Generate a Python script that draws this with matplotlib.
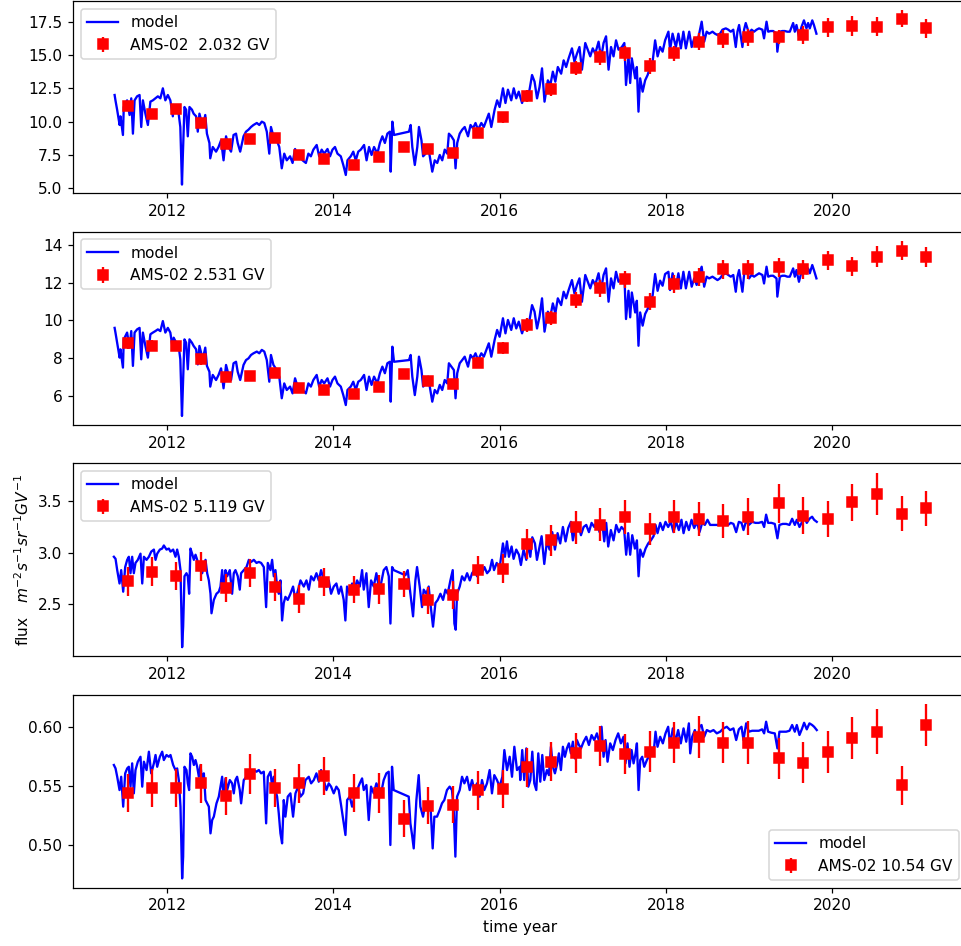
import matplotlib
matplotlib.use("Agg")
import matplotlib.pyplot as plt

# ---------------- model curves ----------------
# panels 1 and 2 share one time grid
t12 = [2011.37, 2011.38, 2011.40, 2011.43, 2011.44, 2011.47, 2011.48, 2011.52, 2011.55, 2011.57,
       2011.59, 2011.61, 2011.64, 2011.67, 2011.69, 2011.71, 2011.74, 2011.77, 2011.80, 2011.83,
       2011.86, 2011.89, 2011.92, 2011.95, 2011.98, 2012.01, 2012.04, 2012.07, 2012.08, 2012.11,
       2012.14, 2012.16, 2012.18, 2012.19, 2012.21, 2012.23, 2012.25, 2012.27, 2012.30, 2012.32,
       2012.35, 2012.37, 2012.39, 2012.41, 2012.43, 2012.46, 2012.48,
       2012.51, 2012.52, 2012.55, 2012.59, 2012.62, 2012.65, 2012.68, 2012.71, 2012.74, 2012.77,
       2012.80, 2012.83, 2012.85, 2012.88, 2012.92, 2012.95, 2012.98, 2013.01, 2013.04, 2013.08,
       2013.11, 2013.14, 2013.17, 2013.20, 2013.23, 2013.25, 2013.28,
       2013.32, 2013.35, 2013.38, 2013.41, 2013.44, 2013.48, 2013.51, 2013.54, 2013.57, 2013.60,
       2013.63, 2013.67, 2013.70, 2013.73, 2013.76, 2013.80, 2013.83, 2013.86, 2013.89, 2013.93,
       2013.96, 2013.99, 2014.02, 2014.05, 2014.09, 2014.12, 2014.15, 2014.17, 2014.21, 2014.24,
       2014.27, 2014.30, 2014.33, 2014.37, 2014.40, 2014.43, 2014.46, 2014.49, 2014.53, 2014.56,
       2014.59, 2014.62, 2014.65, 2014.68, 2014.69, 2014.71, 2014.73, 2014.91, 2014.93, 2014.95,
       2014.98, 2015.01, 2015.03, 2015.06, 2015.08, 2015.11, 2015.14, 2015.16, 2015.19, 2015.22,
       2015.25, 2015.28, 2015.31, 2015.34, 2015.37, 2015.39, 2015.42, 2015.45, 2015.47, 2015.49,
       2015.52, 2015.55, 2015.58, 2015.62, 2015.65, 2015.68, 2015.71, 2015.74, 2015.78, 2015.81,
       2015.84, 2015.87, 2015.90, 2015.94, 2015.97, 2016.00, 2016.04, 2016.07, 2016.10, 2016.14,
       2016.17, 2016.20, 2016.23, 2016.27, 2016.30, 2016.33, 2016.36, 2016.39, 2016.42, 2016.45,
       2016.48, 2016.51, 2016.54,
       2016.58, 2016.61, 2016.64, 2016.67, 2016.70, 2016.74, 2016.77, 2016.80, 2016.83, 2016.87,
       2016.90, 2016.93, 2016.96, 2016.99, 2017.03, 2017.06, 2017.09, 2017.12, 2017.15, 2017.19,
       2017.22, 2017.25, 2017.28, 2017.31, 2017.34, 2017.37, 2017.40, 2017.43, 2017.47, 2017.50,
       2017.52, 2017.55, 2017.57, 2017.59, 2017.63, 2017.65, 2017.67, 2017.69, 2017.72, 2017.75,
       2017.78, 2017.81, 2017.84, 2017.87, 2017.90, 2017.93, 2017.96, 2017.99,
       2018.03, 2018.05, 2018.08, 2018.12, 2018.15, 2018.18, 2018.21, 2018.24, 2018.28, 2018.31,
       2018.34, 2018.37, 2018.40,
       2018.43, 2018.46, 2018.49, 2018.52, 2018.56, 2018.59, 2018.62, 2018.65, 2018.68, 2018.72,
       2018.75, 2018.78, 2018.81, 2018.84, 2018.86, 2018.88, 2018.92, 2018.94, 2018.96, 2019.00,
       2019.03, 2019.06, 2019.09, 2019.12, 2019.16, 2019.18, 2019.21, 2019.23, 2019.26, 2019.29,
       2019.33, 2019.34, 2019.37, 2019.40, 2019.43, 2019.46, 2019.49, 2019.53, 2019.55, 2019.57,
       2019.60, 2019.63, 2019.66, 2019.69, 2019.71, 2019.73, 2019.76, 2019.78, 2019.81]

model_2032 = [12.0, 11.6, 10.9, 9.75, 10.4, 9.0, 11.1, 11.6, 10.5, 11.75,
              9.1, 11.6, 11.9, 12.0, 9.6, 11.6, 10.6, 9.75, 11.5, 11.6,
              11.75, 11.9, 11.75, 12.5, 11.6, 12.0, 11.6, 10.4, 11.25, 10.9,
              10.6, 9.6, 5.28, 7.4, 11.1, 10.9, 8.9, 11.1, 10.9, 10.6,
              10.4, 9.25, 10.6, 10.1, 9.6, 10.5, 9.1,
              8.4, 7.25, 8.1, 7.75, 8.1, 8.6, 7.1, 8.9, 8.1, 7.75,
              9.0, 9.1, 8.4, 7.75, 8.9, 9.25, 9.4, 9.6, 9.75, 9.9,
              9.75, 10.0, 9.9, 9.25, 7.6, 9.6, 8.9,
              8.6, 8.1, 6.5, 7.6, 7.1, 7.4, 6.9, 7.95, 7.4, 7.4,
              7.1, 6.9, 7.6, 7.4, 7.9, 8.25, 7.4, 7.9, 7.6, 7.95,
              7.4, 7.9, 8.1, 7.6, 7.4, 6.75, 6.0, 7.1, 7.4, 7.75,
              7.1, 7.75, 7.9, 8.25, 7.1, 8.1, 7.5, 8.1, 7.6, 8.4,
              8.9, 8.4, 9.1, 9.25, 6.25, 10.0, 9.0, 9.25, 9.75, 8.1,
              6.75, 8.1, 9.6, 8.6, 7.4, 7.6, 8.1, 7.4, 6.25, 7.1,
              6.9, 7.5, 7.1, 7.9, 7.6, 9.1, 8.9, 8.6, 6.5, 8.4,
              9.1, 9.4, 9.6, 8.9, 9.75, 9.5, 9.9, 9.4, 9.9, 9.6,
              10.1, 10.6, 9.6, 10.9, 11.6, 11.1, 12.5, 11.4, 12.4, 11.6,
              12.5, 11.75, 12.25, 11.4, 12.0, 11.75, 12.4, 13.5, 13.0, 11.75,
              12.6, 14.0, 11.5,
              13.1, 12.75, 13.75, 13.0, 14.1, 13.6, 14.6, 14.1, 14.75, 15.5,
              14.5, 15.1, 15.6, 13.9, 15.9, 15.4, 14.9, 15.5, 15.1, 16.0,
              14.75, 15.9, 16.4, 13.9, 15.6, 14.9, 16.1, 15.4, 15.6, 15.9,
              12.75, 14.9, 12.9, 14.75, 13.25, 14.1, 10.75, 13.25, 12.25, 13.1,
              13.5, 14.1, 14.5, 16.1, 14.9, 15.6, 15.25, 16.1,
              16.75, 15.4, 16.6, 15.6, 16.6, 15.5, 16.75, 15.5, 16.75, 15.6,
              16.25, 15.75, 16.6,
              17.5, 16.0, 16.75, 16.6, 16.75, 16.6, 16.5, 16.6, 16.9, 17.0,
              16.9, 16.75, 16.9, 15.6, 16.75, 17.25, 15.6, 16.9, 17.4, 16.6,
              16.9, 16.75, 16.9, 17.0, 16.9, 16.25, 17.5, 16.75, 16.8, 16.8,
              16.6, 15.25, 16.75, 16.8, 16.8, 16.75, 16.75, 17.4, 16.75, 17.25,
              16.4, 17.1, 17.6, 17.0, 17.4, 17.0, 17.6, 17.25, 16.6]

model_2531 = [9.60, 9.35, 8.81, 8.02, 8.46, 7.49, 8.99, 9.35, 8.55, 9.43,
              7.58, 9.35, 9.52, 9.60, 7.93, 9.35, 8.64, 8.02, 9.26, 9.35,
              9.43, 9.52, 9.43, 9.96, 9.35, 9.60, 9.35, 8.46, 9.08, 8.81,
              8.64, 7.93, 4.92, 6.34, 8.99, 8.81, 7.40, 8.99, 8.81, 8.64,
              8.46, 7.66, 8.64, 8.28, 7.93, 8.55, 7.58,
              7.27, 6.48, 7.10, 6.83, 7.10, 7.45, 6.39, 7.63, 7.10, 6.83,
              7.72, 7.80, 7.27, 6.83, 7.63, 7.89, 7.98, 8.16, 8.25, 8.34,
              8.25, 8.43, 8.34, 7.89, 6.74, 8.16, 7.63,
              7.36, 7.01, 5.86, 6.65, 6.30, 6.48, 6.12, 6.92, 6.48, 6.48,
              6.30, 6.12, 6.65, 6.48, 6.83, 7.10, 6.48, 6.83, 6.65, 6.92,
              6.48, 6.83, 7.01, 6.65, 6.48, 6.03, 5.50, 6.30, 6.48, 6.74,
              6.30, 6.74, 6.83, 7.10, 6.30, 7.01, 6.57, 7.01, 6.65, 7.19,
              7.54, 7.19, 7.72, 7.80, 5.68, 8.60, 7.80, 7.89, 8.16, 7.01,
              6.03, 7.01, 8.07, 7.36, 6.48, 6.65, 7.01, 6.48, 5.68, 6.30,
              6.12, 6.57, 6.30, 6.83, 6.65, 7.72, 7.54, 7.36, 5.86, 7.19,
              7.72, 7.89, 8.07, 7.54, 8.16, 7.98, 8.25, 7.89, 8.25, 8.07,
              8.43, 8.78, 8.07, 8.96, 9.49, 9.13, 10.11, 9.31, 10.02, 9.49,
              10.11, 9.57, 9.93, 9.31, 9.75, 9.57, 10.02, 10.81, 10.46, 9.57,
              10.20, 11.17, 9.40,
              10.46, 10.20, 10.90, 10.37, 11.17, 10.81, 11.52, 11.17, 11.61, 12.14,
              11.43, 11.88, 12.23, 10.99, 12.41, 12.05, 11.70, 12.14, 11.88, 12.50,
              11.61, 12.41, 12.76, 10.99, 12.23, 11.70, 12.58, 12.05, 12.23, 12.41,
              10.07, 11.57, 10.16, 11.48, 10.42, 11.04, 8.65, 10.42, 9.72, 10.34,
              10.60, 11.04, 11.31, 12.46, 11.57, 12.11, 11.84, 12.46,
              12.58, 11.61, 12.50, 11.79, 12.50, 11.70, 12.58, 11.70, 12.58, 11.79,
              12.23, 11.88, 12.50,
              12.85, 11.79, 12.32, 12.23, 12.32, 12.23, 12.14, 12.23, 12.41, 12.50,
              12.41, 12.32, 12.41, 11.52, 12.32, 12.67, 11.52, 12.41, 12.76, 12.23,
              12.41, 12.32, 12.41, 12.50, 12.41, 11.96, 12.85, 12.32, 12.37, 12.37,
              12.23, 11.26, 12.32, 12.37, 12.37, 12.32, 12.32, 12.76, 12.32, 12.67,
              12.05, 12.58, 12.94, 12.50, 12.76, 12.50, 12.94, 12.67, 12.23]

t3 = [2011.361, 2011.381, 2011.401, 2011.429, 2011.449, 2011.473, 2011.497, 2011.521, 2011.541, 2011.561,
      2011.581, 2011.601, 2011.621, 2011.649, 2011.681, 2011.702, 2011.722, 2011.754, 2011.782, 2011.810,
      2011.842, 2011.862, 2011.882, 2011.914, 2011.942, 2011.962, 2011.994, 2012.022, 2012.042, 2012.074,
      2012.102, 2012.122, 2012.142, 2012.162, 2012.182, 2012.194, 2012.210, 2012.234, 2012.250, 2012.266,
      2012.282, 2012.302, 2012.323, 2012.343, 2012.363, 2012.383, 2012.403, 2012.423, 2012.443, 2012.463,
      2012.483, 2012.503, 2012.523, 2012.535, 2012.563, 2012.595, 2012.623, 2012.643, 2012.663, 2012.683,
      2012.703, 2012.723, 2012.755, 2012.783, 2012.803, 2012.823, 2012.851, 2012.875, 2012.891, 2012.923,
      2012.956, 2012.984, 2013.012, 2013.044, 2013.076, 2013.104, 2013.132, 2013.164, 2013.192, 2013.212,
      2013.244, 2013.264, 2013.284, 2013.304, 2013.324, 2013.344, 2013.364, 2013.384, 2013.404, 2013.424,
      2013.452, 2013.484, 2013.516, 2013.544, 2013.577, 2013.605, 2013.645, 2013.677, 2013.705, 2013.733,
      2013.765, 2013.797, 2013.825, 2013.853, 2013.885, 2013.917, 2013.945, 2013.973, 2014.005, 2014.037,
      2014.065, 2014.093, 2014.125, 2014.145, 2014.165, 2014.197, 2014.226, 2014.254, 2014.286, 2014.318,
      2014.346, 2014.366, 2014.398, 2014.426, 2014.454, 2014.486, 2014.518, 2014.546, 2014.574, 2014.606,
      2014.638, 2014.667, 2014.687, 2014.707, 2014.727, 2014.867, 2014.895, 2014.927, 2014.959, 2014.987,
      2015.007, 2015.039, 2015.067, 2015.087, 2015.119, 2015.147, 2015.167, 2015.199, 2015.228, 2015.256,
      2015.288, 2015.320, 2015.348, 2015.376, 2015.408, 2015.436, 2015.456, 2015.472, 2015.488, 2015.520,
      2015.548, 2015.577, 2015.609, 2015.641, 2015.669, 2015.697, 2015.729, 2015.760, 2015.788, 2015.817,
      2015.849, 2015.881, 2015.909, 2015.933, 2015.965, 2015.994,
      2016.008, 2016.040, 2016.064, 2016.088, 2016.112, 2016.144, 2016.168, 2016.200, 2016.232, 2016.256,
      2016.288, 2016.321, 2016.345, 2016.369, 2016.393, 2016.425, 2016.449, 2016.481, 2016.505, 2016.537,
      2016.569, 2016.601, 2016.633, 2016.665, 2016.697, 2016.729, 2016.761, 2016.793, 2016.825, 2016.857,
      2016.881, 2016.913, 2016.945, 2016.978, 2017.010, 2017.042, 2017.074, 2017.106, 2017.138, 2017.170,
      2017.202, 2017.234, 2017.258, 2017.282, 2017.306, 2017.338, 2017.370, 2017.402, 2017.434, 2017.466,
      2017.498, 2017.522, 2017.546, 2017.570, 2017.595, 2017.627, 2017.651, 2017.671, 2017.691, 2017.723,
      2017.755, 2017.787, 2017.819, 2017.851, 2017.875, 2017.899, 2017.931, 2017.963, 2017.995, 2018.027,
      2018.059, 2018.091, 2018.123, 2018.155, 2018.187, 2018.212, 2018.244, 2018.276, 2018.308, 2018.340,
      2018.372, 2018.404, 2018.436, 2018.468, 2018.500, 2018.532, 2018.572, 2018.612, 2018.652, 2018.684,
      2018.716, 2018.748, 2018.780, 2018.812, 2018.845, 2018.877, 2018.909, 2018.933, 2018.965, 2018.997,
      2019.037, 2019.077, 2019.117, 2019.157, 2019.181, 2019.205, 2019.229, 2019.269, 2019.309, 2019.341,
      2019.365, 2019.405, 2019.446, 2019.486, 2019.518, 2019.550, 2019.574, 2019.606, 2019.638, 2019.662,
      2019.694, 2019.726, 2019.758, 2019.782, 2019.814]

model_5119 = [2.96, 2.94, 2.83, 2.70, 2.83, 2.62, 2.86, 2.93, 2.96, 2.80,
              2.96, 2.80, 2.90, 2.93, 2.99, 2.70, 2.96, 2.93, 2.96, 3.01,
              3.03, 2.93, 2.99, 3.03, 3.04, 3.07, 3.03, 3.04, 3.01, 3.03,
              2.96, 3.03, 2.96, 2.83, 2.08, 2.28, 2.77, 2.80, 2.77, 2.60,
              3.04, 2.99, 2.93, 2.98, 2.93, 2.83, 2.86, 2.80, 2.88, 2.93,
              2.80, 2.73, 2.60, 2.41, 2.54, 2.60, 2.62, 2.67, 2.83, 2.64,
              2.83, 2.77, 2.83, 2.60, 2.80, 2.83, 2.77, 2.64, 2.80, 2.83,
              2.86, 2.93, 2.91, 2.93, 2.90, 2.91, 2.90, 2.86, 2.47, 2.90,
              2.83, 2.93, 2.77, 2.83, 2.67, 2.60, 2.73, 2.34, 2.51, 2.57,
              2.54, 2.60, 2.67, 2.54, 2.64, 2.73, 2.67, 2.73, 2.64, 2.77,
              2.73, 2.80, 2.73, 2.83, 2.73, 2.67, 2.73, 2.60, 2.67, 2.70,
              2.60, 2.67, 2.54, 2.34, 2.67, 2.60, 2.70, 2.64, 2.73, 2.67,
              2.83, 2.64, 2.80, 2.47, 2.73, 2.67, 2.80, 2.67, 2.70, 2.83,
              2.86, 2.77, 2.31, 2.86, 2.83, 2.78, 2.83, 2.60, 2.38, 2.73,
              2.86, 2.67, 2.47, 2.64, 2.60, 2.67, 2.51, 2.28, 2.51, 2.54,
              2.60, 2.54, 2.64, 2.60, 2.73, 2.83, 2.31, 2.25, 2.60, 2.67,
              2.77, 2.73, 2.80, 2.73, 2.80, 2.83, 2.77, 2.83, 2.80, 2.86,
              2.80, 2.83, 2.93, 2.83, 2.90, 2.86,
              2.90, 3.09, 2.96, 3.11, 2.96, 3.06, 2.94, 3.03, 2.98, 2.88,
              3.03, 2.93, 3.09, 2.96, 3.15, 3.09, 2.93, 3.06, 3.16, 2.89,
              3.11, 3.03, 3.20, 3.03, 3.19, 3.09, 3.25, 3.11, 3.24, 3.30,
              3.12, 3.25, 3.29, 3.17, 3.25, 3.27, 3.20, 3.29, 3.25, 3.30,
              3.20, 3.30, 3.11, 3.29, 3.06, 3.22, 3.12, 3.27, 3.20, 3.25,
              3.22, 2.98, 3.19, 2.98, 3.17, 3.04, 3.12, 2.77, 3.03, 2.96,
              3.04, 3.09, 3.12, 3.16, 3.27, 3.19, 3.29, 3.22, 3.30, 3.25,
              3.30, 3.20, 3.30, 3.22, 3.32, 3.19, 3.30, 3.22, 3.32, 3.24,
              3.30, 3.20, 3.29, 3.27, 3.32, 3.27, 3.27, 3.27, 3.27, 3.30,
              3.28, 3.27, 3.29, 3.28, 3.20, 3.30, 3.29, 3.22, 3.31, 3.27,
              3.30, 3.29, 3.29, 3.30, 3.25, 3.37, 3.29, 3.29, 3.28, 3.14,
              3.27, 3.28, 3.28, 3.27, 3.33, 3.27, 3.32, 3.25, 3.30, 3.35,
              3.29, 3.33, 3.35, 3.32, 3.30]

t4 = [2011.361, 2011.381, 2011.401, 2011.429, 2011.449, 2011.473, 2011.497, 2011.521, 2011.541, 2011.561,
      2011.581, 2011.601, 2011.621, 2011.649, 2011.681, 2011.702, 2011.722, 2011.754, 2011.782, 2011.810,
      2011.842, 2011.862, 2011.882, 2011.914, 2011.942, 2011.962, 2011.994, 2012.022, 2012.042, 2012.074,
      2012.102, 2012.122, 2012.142, 2012.162, 2012.182, 2012.194, 2012.210, 2012.234, 2012.250, 2012.266,
      2012.282, 2012.302, 2012.323, 2012.343, 2012.363, 2012.383, 2012.403, 2012.423, 2012.443, 2012.463,
      2012.483, 2012.503, 2012.523, 2012.543, 2012.563, 2012.595, 2012.623, 2012.643, 2012.663, 2012.683,
      2012.703, 2012.723, 2012.755, 2012.783, 2012.803, 2012.823, 2012.843, 2012.875, 2012.891, 2012.923,
      2012.956, 2012.984, 2013.012, 2013.044, 2013.076, 2013.104, 2013.132, 2013.164, 2013.192, 2013.212,
      2013.244, 2013.264, 2013.284, 2013.304, 2013.324, 2013.344, 2013.364, 2013.384, 2013.404, 2013.424,
      2013.452, 2013.484, 2013.516, 2013.545, 2013.577, 2013.605, 2013.637, 2013.665, 2013.705, 2013.733,
      2013.765, 2013.797, 2013.825, 2013.853, 2013.885, 2013.917, 2013.945, 2013.973, 2014.005, 2014.037,
      2014.065, 2014.093, 2014.125, 2014.146, 2014.166, 2014.198, 2014.226, 2014.254, 2014.286, 2014.318,
      2014.346, 2014.366, 2014.398, 2014.426, 2014.454, 2014.486, 2014.518, 2014.546, 2014.574, 2014.606,
      2014.638, 2014.666, 2014.686, 2014.706, 2014.726, 2014.907, 2014.927, 2014.947, 2014.967, 2014.999,
      2015.027, 2015.047, 2015.079, 2015.107, 2015.135, 2015.167, 2015.195, 2015.215, 2015.247, 2015.279,
      2015.307, 2015.335, 2015.367, 2015.399, 2015.427, 2015.448, 2015.468, 2015.488, 2015.520, 2015.548,
      2015.576, 2015.608, 2015.640, 2015.668, 2015.696, 2015.728, 2015.760, 2015.788, 2015.816, 2015.848,
      2015.880, 2015.908, 2015.936, 2015.968, 2016.000, 2016.033, 2016.057, 2016.089, 2016.121, 2016.149,
      2016.177, 2016.209, 2016.241,
      2016.248, 2016.272, 2016.296, 2016.321, 2016.345, 2016.369, 2016.393, 2016.417, 2016.441, 2016.465,
      2016.489, 2016.513, 2016.537, 2016.569, 2016.593, 2016.617, 2016.641, 2016.665, 2016.689, 2016.713,
      2016.737, 2016.761, 2016.785, 2016.809, 2016.833, 2016.857, 2016.881, 2016.905, 2016.929, 2016.954,
      2016.978, 2017.010, 2017.042, 2017.074, 2017.106, 2017.138, 2017.170, 2017.202, 2017.226, 2017.250,
      2017.274, 2017.298, 2017.330, 2017.362, 2017.394, 2017.426, 2017.458, 2017.490, 2017.514, 2017.538,
      2017.562, 2017.587, 2017.611, 2017.635, 2017.651, 2017.671, 2017.691, 2017.715, 2017.739, 2017.771,
      2017.803, 2017.835, 2017.859, 2017.875, 2017.899, 2017.931, 2017.963, 2017.995, 2018.027, 2018.051,
      2018.083, 2018.115, 2018.147, 2018.179, 2018.212, 2018.244, 2018.276, 2018.292, 2018.316, 2018.348,
      2018.380, 2018.404, 2018.428, 2018.460, 2018.492, 2018.532, 2018.572, 2018.612, 2018.652, 2018.692,
      2018.732, 2018.772, 2018.812, 2018.845, 2018.877, 2018.909, 2018.933, 2018.965, 2018.997, 2019.037,
      2019.077, 2019.117, 2019.157, 2019.181, 2019.205, 2019.229, 2019.269, 2019.309, 2019.341, 2019.365,
      2019.405, 2019.446, 2019.486, 2019.518, 2019.550, 2019.574, 2019.606, 2019.638, 2019.662, 2019.694,
      2019.726, 2019.758, 2019.782, 2019.814]

model_1054 = [0.5676, 0.5647, 0.5576, 0.5463, 0.5576, 0.5322, 0.5605, 0.5647, 0.5661, 0.5492,
              0.5690, 0.5435, 0.5633, 0.5704, 0.5746, 0.5492, 0.5704, 0.5633, 0.5789, 0.5605,
              0.5690, 0.5761, 0.5661, 0.5746, 0.5789, 0.5718, 0.5761, 0.5746, 0.5761, 0.5676,
              0.5633, 0.5647, 0.5548, 0.5322, 0.4712, 0.4897, 0.5661, 0.5633, 0.5520, 0.5463,
              0.5775, 0.5746, 0.5676, 0.5718, 0.5661, 0.5576, 0.5676, 0.5520, 0.5605, 0.5378,
              0.5350, 0.5322, 0.5095, 0.5208, 0.5237, 0.5350, 0.5407, 0.5492, 0.5576, 0.5378,
              0.5562, 0.5463, 0.5548, 0.5520, 0.5435, 0.5548, 0.5576, 0.5463, 0.5350, 0.5548,
              0.5576, 0.5619, 0.5591, 0.5633, 0.5619, 0.5633, 0.5605, 0.5619, 0.5180, 0.5576,
              0.5619, 0.5492, 0.5576, 0.5463, 0.5407, 0.5265, 0.5095, 0.5010, 0.5378, 0.5237,
              0.5407, 0.5435, 0.5237, 0.5435, 0.5492, 0.5407, 0.5435, 0.5548, 0.5576, 0.5520,
              0.5548, 0.5605, 0.5534, 0.5633, 0.5548, 0.5463, 0.5520, 0.5492, 0.5435, 0.5492,
              0.5463, 0.5336, 0.5180, 0.5081, 0.5378, 0.5407, 0.5322, 0.5407, 0.5463, 0.5520,
              0.5562, 0.5463, 0.5506, 0.5208, 0.5492, 0.5435, 0.5520, 0.5477, 0.5435, 0.5548,
              0.5605, 0.5619, 0.4996, 0.5661, 0.5463, 0.5407, 0.5180, 0.5081, 0.4967, 0.5378,
              0.5590, 0.5322, 0.5237, 0.5350, 0.5293, 0.5350, 0.4967, 0.5237, 0.5237, 0.5293,
              0.5350, 0.5378, 0.5463, 0.5492, 0.5463, 0.5293, 0.4897, 0.5407, 0.5463, 0.5576,
              0.5520, 0.5576, 0.5463, 0.5548, 0.5463, 0.5520, 0.5407, 0.5548, 0.5463, 0.5520,
              0.5633, 0.5435, 0.5590, 0.5548, 0.5492, 0.5576, 0.5803, 0.5633, 0.5746, 0.5576,
              0.5831, 0.5633, 0.5661,
              0.5548, 0.5803, 0.5548, 0.5817, 0.5492, 0.5548, 0.5789, 0.5520, 0.5463, 0.5775,
              0.5534, 0.5761, 0.5548, 0.5633, 0.5590, 0.5831, 0.5661, 0.5605, 0.5676, 0.5775,
              0.5633, 0.5831, 0.5746, 0.5817, 0.5860, 0.5775, 0.5874, 0.5732, 0.5888, 0.5846,
              0.5817, 0.5874, 0.5916, 0.5846, 0.5930, 0.5888, 0.5945, 0.5860, 0.6001, 0.5746,
              0.5888, 0.5704, 0.5860, 0.5803, 0.5888, 0.5945, 0.5860, 0.5916, 0.5690, 0.5860,
              0.5661, 0.5803, 0.5690, 0.5775, 0.5860, 0.5463, 0.5718, 0.5746, 0.5661, 0.5718,
              0.5761, 0.5775, 0.5831, 0.5959, 0.5831, 0.5916, 0.5860, 0.5945, 0.6001, 0.5846,
              0.5987, 0.5874, 0.5973, 0.5860, 0.5987, 0.5874, 0.6030, 0.5775, 0.5916, 0.5973,
              0.5888, 0.6001, 0.6016, 0.5916, 0.5973, 0.5959, 0.5973, 0.5945, 0.5959, 0.5987,
              0.6001, 0.5973, 0.5987, 0.5888, 0.5979, 0.6001, 0.5888, 0.6030, 0.5959, 0.5967,
              0.5967, 0.5967, 0.5979, 0.5945, 0.6044, 0.5959, 0.5950, 0.5945, 0.5817, 0.5959,
              0.5959, 0.5959, 0.5967, 0.6016, 0.5959, 0.6016, 0.5931, 0.5987, 0.6035, 0.5979,
              0.6030, 0.6016, 0.6001, 0.5973]

# ---------------- AMS-02 measurements ----------------
t_ams = [2011.529, 2011.822, 2012.114, 2012.411, 2012.707, 2013.004, 2013.296, 2013.589, 2013.893,
         2014.254, 2014.555, 2014.851, 2015.143, 2015.440, 2015.736, 2016.036, 2016.329, 2016.621,
         2016.922, 2017.210, 2017.507, 2017.803, 2018.100, 2018.397, 2018.692, 2018.986, 2019.358,
         2019.650, 2019.947, 2020.243, 2020.538, 2020.835, 2021.128]

ams_2032 = [11.18, 10.58, 10.93, 9.88, 8.33, 8.68, 8.78, 7.52, 7.18, 6.77, 7.33, 8.12, 7.93, 7.63,
            9.17, 10.33, 11.93, 12.43, 14.03, 14.83, 15.13, 14.18, 15.13, 16.0, 16.2, 16.33, 16.33,
            16.5, 17.08, 17.18, 17.13, 17.73, 17.0]
err_2032 = [0.35, 0.35, 0.35, 0.35, 0.3, 0.3, 0.3, 0.3, 0.3, 0.3, 0.3, 0.3, 0.3, 0.3, 0.35, 0.4,
            0.44, 0.5, 0.5, 0.56, 0.56, 0.62, 0.56, 0.62, 0.66, 0.65, 0.54, 0.65, 0.72, 0.72, 0.72,
            0.64, 0.71]

ams_2531 = [8.78, 8.65, 8.64, 7.93, 6.97, 7.04, 7.19, 6.42, 6.30, 6.07, 6.48, 7.13, 6.78, 6.62,
            7.75, 8.53, 9.75, 10.11, 11.08, 11.70, 12.18, 10.99, 11.93, 12.32, 12.71, 12.71, 12.81,
            12.71, 13.20, 12.88, 13.38, 13.70, 13.38]
err_2531 = [0.28, 0.28, 0.28, 0.28, 0.26, 0.26, 0.26, 0.25, 0.25, 0.25, 0.25, 0.25, 0.25, 0.25,
            0.28, 0.32, 0.35, 0.38, 0.42, 0.44, 0.46, 0.44, 0.46, 0.48, 0.51, 0.51, 0.49, 0.5, 0.51,
            0.51, 0.57, 0.52, 0.53]

ams_5119 = [2.72, 2.815, 2.775, 2.87, 2.655, 2.80, 2.665, 2.55, 2.715, 2.64, 2.645, 2.695, 2.535,
            2.59, 2.83, 2.845, 3.085, 3.12, 3.245, 3.27, 3.345, 3.23, 3.35, 3.33, 3.31, 3.35, 3.48,
            3.36, 3.33, 3.49, 3.57, 3.38, 3.43]
err_5119 = [0.138, 0.143, 0.138, 0.141, 0.135, 0.138, 0.133, 0.133, 0.133, 0.13, 0.141, 0.131,
            0.13, 0.135, 0.138, 0.141, 0.15, 0.15, 0.157, 0.16, 0.165, 0.16, 0.16, 0.167, 0.167,
            0.18, 0.187, 0.18, 0.175, 0.18, 0.206, 0.17, 0.175]

ams_1054 = [0.544, 0.548, 0.548, 0.552, 0.541, 0.560, 0.548, 0.552, 0.558, 0.544, 0.544, 0.522,
            0.533, 0.534, 0.546, 0.547, 0.5656, 0.5704, 0.578, 0.5837, 0.577, 0.5789, 0.5865,
            0.5916, 0.5865, 0.5865, 0.5732, 0.5695, 0.5786, 0.5908, 0.5959, 0.5503, 0.6016]
err_1054 = [0.0163, 0.016, 0.016, 0.0165, 0.016, 0.0167, 0.0163, 0.0165, 0.0163, 0.0163, 0.017,
            0.0156, 0.0156, 0.0156, 0.0163, 0.0163, 0.0163, 0.0166, 0.017, 0.0173, 0.017, 0.0174,
            0.0173, 0.018, 0.0176, 0.0184, 0.0174, 0.0176, 0.0177, 0.0178, 0.0191, 0.0166, 0.0181]

labels = ["AMS-02  2.032 GV", "AMS-02 2.531 GV", "AMS-02 5.119 GV", "AMS-02 10.54 GV"]

# ---------------- figure ----------------
DPI = 111
fig = plt.figure(figsize=(962 / DPI, 946 / DPI), dpi=DPI)

left = 73.3 / 962
width = (966.6 - 73.3) / 962
boxes = [(1.3, 193.3), (231.7, 425.0), (463.3, 656.0), (695.0, 887.7)]
ylims = [(4.625, 19.03), (4.44, 14.71), (1.994, 3.870), (0.4633, 0.6271)]

panels = [
    (t12, model_2032, ams_2032, err_2032),
    (t12, model_2531, ams_2531, err_2531),
    (t3, model_5119, ams_5119, err_5119),
    (t4, model_1054, ams_1054, err_1054),
]

axes = []
for i, ((tm, vm, va, ea), (top, bot)) in enumerate(zip(panels, boxes)):
    ax = fig.add_axes([left, 1 - bot / 946, width, (bot - top) / 946])
    ax.plot(tm, vm, color="b", lw=1.5, label="model")
    ax.errorbar(t_ams, va, yerr=ea, fmt="s", color="r", ms=6, label=labels[i])
    ax.set_xlim(2010.873, 2021.616)
    ax.set_ylim(*ylims[i])
    ax.set_xticks([2012, 2014, 2016, 2018, 2020])
    ax.legend(loc="lower right" if i == 3 else "upper left")
    axes.append(ax)

axes[0].set_yticks([5.0, 7.5, 10.0, 12.5, 15.0, 17.5])
axes[1].set_yticks([6, 8, 10, 12, 14])
axes[2].set_yticks([2.5, 3.0, 3.5])
axes[3].set_yticks([0.50, 0.55, 0.60])

axes[2].set_ylabel(r"flux   $m^{-2}s^{-1}sr^{-1}GV^{-1}$")
axes[3].set_xlabel("time year")

fig.savefig("out.png", dpi=DPI)
